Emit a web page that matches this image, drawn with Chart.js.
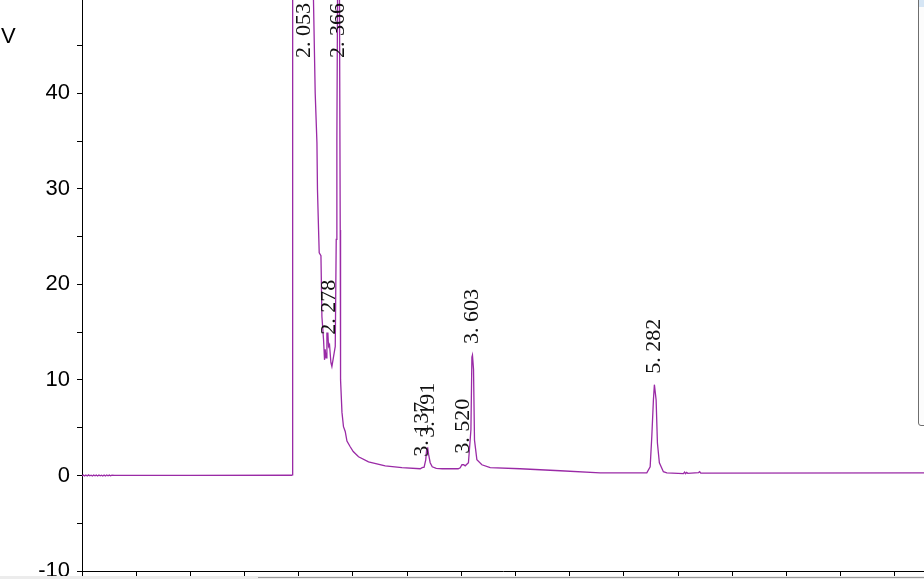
<!DOCTYPE html>
<html><head><meta charset="utf-8">
<script src="https://cdn.jsdelivr.net/npm/chart.js@4.4.1/dist/chart.umd.min.js"></script>
<style>html,body{margin:0;padding:0;background:#fff;overflow:hidden}#wrap{position:relative;width:924px;height:579px}</style>
</head><body><div id="wrap"><canvas id="c" width="924" height="579"></canvas></div>
<script>
// retention time (min)
const retentionTimes = [
  0.000,0.012,0.024,0.036,0.048,0.060,0.072,0.084,0.096,0.108,0.120,0.132,0.144,0.156,0.168,0.180,0.192,0.204,0.216,0.228,0.240,0.252,0.264,0.276,
  0.30,1.00,1.935,1.942,1.944,2.053,2.130,2.136,
  2.152,2.168,2.173,2.183,2.189,2.205,2.214,2.229,2.238,2.244,2.252,2.260,2.269,2.275,2.284,2.297,2.306,2.321,2.337,
  2.346,2.352,2.358,2.366,2.376,2.383,2.386,2.399,2.413,2.429,2.445,2.475,2.503,2.552,2.644,2.798,2.952,
  3.121,3.139,3.157,3.172,3.181,3.190,3.199,3.213,3.232,3.269,3.324,3.471,3.490,3.506,3.522,3.536,3.566,
  3.589,3.598,3.603,3.613,3.622,3.644,3.690,3.767,4.043,4.413,4.782,
  5.212,5.243,5.258,5.273,5.282,5.298,5.310,5.328,5.365,5.397,
  5.55,5.56,5.57,5.58,5.59,5.69,5.70,5.71,7.77
];
// detector signal (mV)
const signal = [
  -0.04,0.05,-0.06,0.04,-0.05,0.06,-0.04,0.03,-0.06,0.05,-0.03,0.04,-0.05,0.05,-0.04,0.03,-0.06,0.04,-0.05,0.05,-0.03,0.04,-0.04,0.02,
  0.00,0.00,0.02,0.05,60,150,60,49.8,
  40.0,34.8,29.9,25.7,23.3,23.0,16.6,14.2,12.1,13.2,12.3,14.9,14.9,13.5,13.7,11.8,11.4,12.4,13.5,
  24.7,35.1,49.8,70,49.8,25.7,10.0,6.6,5.1,4.6,3.6,3.0,2.5,1.96,1.43,1.00,0.81,
  0.70,0.81,0.86,1.64,2.79,2.87,2.17,1.33,0.91,0.75,0.70,0.70,0.81,1.12,1.12,1.01,1.33,
  4.78,12.4,12.6,11.1,3.7,1.64,1.12,0.81,0.70,0.49,0.28,
  0.28,0.91,4.05,7.9,9.5,7.9,3.4,1.33,0.39,0.28,
  0.20,0.35,0.18,0.32,0.22,0.30,0.40,0.25,0.28
];
const peakTimes  = [2.053, 2.278, 2.366, 3.137, 3.191, 3.520, 3.603, 5.282];
const peakLabels = ['2. 053','2. 278','2. 366','3. 137','3. 191','3. 520','3. 603','5. 282'];
const yTickStep = 5;
const yLabelStep = 10;
const xTickStep = 0.5;
const unitLabel = 'V';

function valueAt(t){
  for(let i=1;i<retentionTimes.length;i++){
    if(retentionTimes[i]>=t){
      const t0=retentionTimes[i-1], t1=retentionTimes[i];
      const f = t1===t0?0:(t-t0)/(t1-t0);
      return signal[i-1]+f*(signal[i]-signal[i-1]);
    }
  }
  return signal[signal.length-1];
}

const peakLabelPlugin = {
  id:'peakLabels',
  afterDatasetsDraw(chart){
    const {ctx, chartArea, scales:{x,y}} = chart;
    ctx.save();
    ctx.font = '22px "Liberation Serif"';
    ctx.fillStyle = '#111';
    ctx.textAlign = 'left';
    ctx.textBaseline = 'middle';
    peakTimes.forEach((t,i)=>{
      const px = x.getPixelForValue(t);
      const py = y.getPixelForValue(valueAt(t));
      const bottom = Math.max(py - 11, chartArea.top + 58);
      ctx.save();
      ctx.translate(px, bottom);
      ctx.rotate(-Math.PI/2);
      ctx.fillText(peakLabels[i], 0, 0);
      ctx.restore();
    });
    ctx.restore();
  },
  afterDraw(chart){
    const {ctx} = chart;
    ctx.save();
    ctx.font = '22px "Liberation Sans"';
    ctx.fillStyle = '#000';
    ctx.textBaseline = 'middle';
    ctx.textAlign = 'left';
    ctx.fillText(unitLabel, 1, 37);
    ctx.fillStyle = '#fcfcfc';
    ctx.fillRect(919, 0, 6, 425);
    ctx.fillStyle = '#d6e6f5';
    ctx.fillRect(919, 0, 6, 7);
    ctx.strokeStyle = '#6e6e6e';
    ctx.lineWidth = 1;
    ctx.beginPath();
    ctx.moveTo(918.5, 0);
    ctx.lineTo(918.5, 423);
    ctx.quadraticCurveTo(918.5, 425.5, 921, 425.5);
    ctx.lineTo(925, 425.5);
    ctx.stroke();
    ctx.fillStyle = '#ececec';
    ctx.fillRect(0, 576, 924, 3);
    ctx.strokeStyle = '#9a9a9a';
    ctx.beginPath();
    ctx.moveTo(258, 577.5);
    ctx.lineTo(924, 577.5);
    ctx.stroke();
    ctx.restore();
  }
};

const points = retentionTimes.map((t,i)=>({x:t, y:signal[i]}));

new Chart(document.getElementById('c'), {
  type:'line',
  data:{datasets:[{
    data: points,
    borderColor:'#9a2aa6',
    borderWidth:1.3,
    pointRadius:0,
    tension:0,
    fill:false
  }]},
  options:{
    responsive:false,
    animation:false,
    devicePixelRatio:1,
    layout:{padding:0},
    plugins:{legend:{display:false}, tooltip:{enabled:false}},
    scales:{
      x:{
        type:'linear',
        min:0, max:7.77,
        ticks:{display:false, stepSize:xTickStep, includeBounds:false},
        grid:{drawOnChartArea:false, drawTicks:true, tickLength:5, color:'#000'},
        border:{display:true, color:'#000', width:1},
        afterFit(s){ s.height = 8; s.paddingLeft = 0; s.paddingRight = 0; }
      },
      y:{
        type:'linear',
        min:-10, max:49.76,
        ticks:{
          stepSize:yTickStep, includeBounds:false, autoSkip:false, padding:7,
          color:'#000',
          font:{family:'"Liberation Sans"', size:22},
          callback:(v)=> (Math.abs(v % yLabelStep) < 1e-9 ? String(v) : '')
        },
        grid:{drawOnChartArea:false, drawTicks:true, tickLength:5, color:'#000'},
        border:{display:true, color:'#000', width:1},
        afterFit(s){ s.width = 82; s.paddingTop = 0; s.paddingBottom = 0; }
      }
    }
  },
  plugins:[peakLabelPlugin]
});
</script>
</body></html>
